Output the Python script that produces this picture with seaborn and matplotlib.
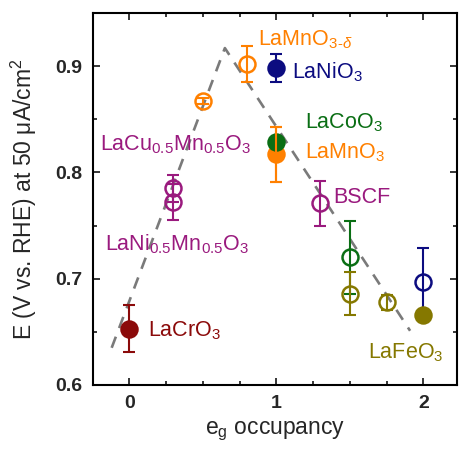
import matplotlib
matplotlib.use("Agg")
import matplotlib.pyplot as plt
import seaborn as sns
import pandas as pd
from matplotlib.ticker import MultipleLocator

# ---- data ----
eg = [0.0, 0.3, 0.3, 0.5, 0.8, 1.0, 1.0, 1.0, 1.3, 1.5, 1.5, 1.75, 2.0, 2.0]
E = [0.653, 0.785, 0.772, 0.867, 0.902, 0.898, 0.817, 0.829, 0.771, 0.720, 0.686, 0.678, 0.697, 0.666]
err = [0.022, 0.013, 0.017, 0.003, 0.017, 0.013, 0.026, 0.003, 0.021, 0.034, 0.020, 0.007, 0.032, 0.003]
filled = [True, False, False, False, False, True, True, True, False, False, False, False, False, True]
group = ["cr", "pu", "pu", "or", "or", "nv", "or", "gr", "pu", "gr", "ol", "ol", "nv", "ol"]

trend_x = [-0.12, 0.65, 1.91]
trend_y = [0.635, 0.917, 0.651]

labels = [r"LaMnO$_{3\text{-}\delta}$", r"LaNiO$_3$", r"LaCoO$_3$", r"LaMnO$_3$",
          r"LaCu$_{0.5}$Mn$_{0.5}$O$_3$", "BSCF", r"LaNi$_{0.5}$Mn$_{0.5}$O$_3$",
          r"LaCrO$_3$", r"LaFeO$_3$"]
label_x = [0.877, 1.105, 1.195, 1.195, -0.199, 1.388, -0.165, 0.129, 1.626]
label_y = [0.9198, 0.8884, 0.8412, 0.8129, 0.8208, 0.7708, 0.7264, 0.6453, 0.6252]
label_group = ["or", "nv", "gr", "or", "pu", "pu", "pu", "cr", "ol"]

palette = {"cr": "#8b0a0a", "pu": "#9a1a7e", "or": "#ff8000", "nv": "#0c0c80",
           "gr": "#0a6e14", "ol": "#857800"}

df = pd.DataFrame({"eg": eg, "E": E, "err": err, "filled": filled, "group": group})

sns.set_theme(style="ticks")
plt.rcParams["font.family"] = ["Liberation Sans", "DejaVu Sans"]
plt.rcParams["mathtext.fontset"] = "custom"
plt.rcParams["mathtext.rm"] = "Liberation Sans"
plt.rcParams["mathtext.it"] = "Liberation Sans:italic"
plt.rcParams["mathtext.bf"] = "Liberation Sans:bold"

fig = plt.figure(figsize=(4.59, 4.49), dpi=100)
ax = fig.add_axes([93 / 459, 1 - 385 / 449, (457 - 93) / 459, (385 - 13) / 449])

# dashed volcano trend
sns.lineplot(x=trend_x, y=trend_y, sort=False, color="#7a7a7a", lw=1.9, ax=ax, zorder=1)
ax.lines[-1].set_dashes((4.5, 3.5))

# points with error bars
for i, r in df.iterrows():
    c = palette[r["group"]]
    z = 3 + i * 0.1
    ax.errorbar(r["eg"], r["E"], yerr=r["err"], fmt="none", ecolor=c, elinewidth=1.5,
                capsize=4.5, capthick=1.5, zorder=z)
    ax.plot(r["eg"], r["E"], "o", ms=11.5, mew=1.8, mec=c,
            mfc=c if r["filled"] else "none", zorder=z)
# LaMnO3 error bar visible above LaCoO3 marker
ax.errorbar(eg[6], E[6], yerr=err[6], fmt="none", ecolor=palette["or"], elinewidth=1.5,
            capsize=4.5, capthick=1.5, zorder=10)

for t, x, y, g in zip(labels, label_x, label_y, label_group):
    ax.text(x, y, t, color=palette[g], fontsize=15.5, ha="left", va="baseline", zorder=11)

ax.set_xlim(-0.247, 2.229)
ax.set_ylim(0.6, 0.95)
ax.xaxis.set_major_locator(MultipleLocator(1))
ax.xaxis.set_minor_locator(MultipleLocator(0.25))
ax.yaxis.set_minor_locator(MultipleLocator(0.05))
ax.set_yticks([0.6, 0.7, 0.8, 0.9])
ax.set_yticklabels(["0.6", "0.7", "0.8", "0.9"])
ax.tick_params(which="both", direction="in", top=True, right=True, width=1.1, color="black")
ax.tick_params(which="major", length=5)
ax.tick_params(which="minor", length=3)
ax.tick_params(axis="y", pad=8)
ax.tick_params(axis="x", pad=7)
for lab in ax.get_xticklabels() + ax.get_yticklabels():
    lab.set_fontweight("bold")
    lab.set_fontsize(14)
for s in ax.spines.values():
    s.set_linewidth(1.5)
    s.set_color("black")

ax.set_xlabel(r"e$_\mathregular{g}$ occupancy", fontsize=16.5, labelpad=6)
ax.set_ylabel(r"E (V vs. RHE) at 50 μA/cm$^2$", fontsize=16.5)
ax.yaxis.set_label_coords(-0.147, 0.5)

fig.savefig("out.png", dpi=100)
